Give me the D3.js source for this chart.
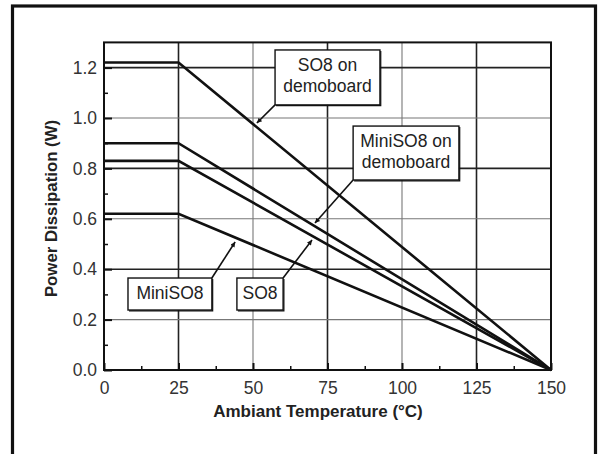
<!DOCTYPE html>
<html>
<head>
<meta charset="utf-8">
<script src="https://cdn.jsdelivr.net/npm/d3@7"></script>
<style>
  html, body { margin: 0; padding: 0; background: #fff; }
  svg { display: block; font-family: "Liberation Sans", Arial, Helvetica, sans-serif; }
</style>
</head>
<body>
<svg id="chart" width="599" height="454"></svg>
<script>
// ---- data ----
const seriesNames = ["SO8 on demoboard", "MiniSO8 on demoboard", "SO8", "MiniSO8"];
const flatPower = [1.22, 0.90, 0.83, 0.62];        // W, flat up to 25 °C
const breakTemp = [25, 25, 25, 25];                  // °C
const zeroTemp = [150, 150, 150, 150];               // °C where power reaches 0
const xTicks = [0, 25, 50, 75, 100, 125, 150];
const yTicks = [0.0, 0.2, 0.4, 0.6, 0.8, 1.0, 1.2];
const xMinorTicks = [12.5, 37.5, 62.5, 87.5, 112.5, 137.5];
const yMinorTicks = [0.1, 0.3, 0.5, 0.7, 0.9, 1.1];
// annotation boxes in data coordinates: [T0, T1], [P top, P bottom], tip [T, P], corner used for pointer
const annLabels = [["SO8 on", "demoboard"], ["MiniSO8 on", "demoboard"], ["MiniSO8"], ["SO8"]];
const annBoxT = [[57.4, 92.6], [83.6, 119.1], [8.05, 36.2], [44.6, 60.1]];
const annBoxP = [[1.270, 1.052], [0.968, 0.754], [0.365, 0.238], [0.365, 0.238]];
const annTip = [[51.3, 0.980], [70.8, 0.583], [44.0, 0.508], [69.8, 0.516]];
const annCorner = ["bl", "bl", "tr", "tr"];

// ---- layout ----
const svg = d3.select("#chart");
const x = d3.scaleLinear().domain([0, 150]).range([104, 551]);
const y = d3.scaleLinear().domain([0, 1.3]).range([370, 42.4]);

// outer frame
svg.append("rect").attr("x", 12.5).attr("y", 6).attr("width", 583).attr("height", 470)
  .attr("fill", "none").attr("stroke", "#111").attr("stroke-width", 3.2);

// grid
const g = svg.append("g");
xTicks.filter(t => t > 0 && t < 150).forEach((t, i) => {
  const dark = (i % 2 === 0);
  g.append("line").attr("x1", x(t)).attr("x2", x(t)).attr("y1", y(0)).attr("y2", y(1.3))
    .attr("stroke", dark ? "#222" : "#777").attr("stroke-width", dark ? 1.6 : 1.1);
});
yTicks.filter(t => t > 0).forEach((t, i) => {
  const dark = (i % 2 === 1);
  g.append("line").attr("x1", x(0)).attr("x2", x(150)).attr("y1", y(t)).attr("y2", y(t))
    .attr("stroke", dark ? "#222" : "#777").attr("stroke-width", dark ? 1.6 : 1.1);
});

// axes (ticks inward)
const xAxis = d3.axisBottom(x).tickValues(xTicks).tickSize(-7).tickPadding(12).tickFormat(d3.format("d"));
const yAxis = d3.axisLeft(y).tickValues(yTicks).tickSize(-8).tickPadding(7).tickFormat(d3.format(".1f"));
const gx = svg.append("g").attr("transform", `translate(0,${y(0)})`).call(xAxis);
const gy = svg.append("g").attr("transform", `translate(${x(0)},0)`).call(yAxis);
[gx, gy].forEach(a => {
  a.select(".domain").remove();
  a.selectAll(".tick line").attr("stroke", "#111").attr("stroke-width", 2);
  a.selectAll(".tick text").attr("fill", "#333").style("font-size", "17.5px")
    .style("font-family", "'Liberation Sans', Arial, sans-serif");
});
gx.selectAll(".tick text").attr("dy", "0.71em");
gy.selectAll(".tick text").attr("dy", "0.33em");
const gxm = svg.append("g").attr("transform", `translate(0,${y(0)})`)
  .call(d3.axisBottom(x).tickValues(xMinorTicks).tickSize(-4).tickFormat(""));
const gym = svg.append("g").attr("transform", `translate(${x(0)},0)`)
  .call(d3.axisLeft(y).tickValues(yMinorTicks).tickSize(-4).tickFormat(""));
[gxm, gym].forEach(a => {
  a.select(".domain").remove();
  a.selectAll(".tick line").attr("stroke", "#111").attr("stroke-width", 1.5);
});

// plot frame
svg.append("rect").attr("x", x(0)).attr("y", y(1.3)).attr("width", x(150) - x(0)).attr("height", y(0) - y(1.3))
  .attr("fill", "none").attr("stroke", "#111").attr("stroke-width", 2);

// series lines
const line = d3.line().x(d => x(d[0])).y(d => y(d[1]));
seriesNames.forEach((name, i) => {
  const pts = [[0, flatPower[i]], [breakTemp[i], flatPower[i]], [zeroTemp[i], 0]];
  svg.append("path").attr("d", line(pts)).attr("fill", "none")
    .attr("stroke", "#111").attr("stroke-width", 2.6).attr("stroke-linejoin", "miter");
});

// arrow marker
svg.append("defs").append("marker").attr("id", "arr")
  .attr("viewBox", "0 0 10 10").attr("refX", 10).attr("refY", 5)
  .attr("markerWidth", 7).attr("markerHeight", 5).attr("markerUnits", "userSpaceOnUse")
  .attr("orient", "auto")
  .append("path").attr("d", "M0,0 L10,5 L0,10 z").attr("fill", "#111");

// annotations
annLabels.forEach((lines, i) => {
  const x0 = x(annBoxT[i][0]), x1 = x(annBoxT[i][1]);
  const y0 = y(annBoxP[i][0]), y1 = y(annBoxP[i][1]);
  const cx = annCorner[i] === "bl" ? x0 : x1;
  const cy = annCorner[i] === "bl" ? y1 : y0;
  svg.append("line").attr("x1", cx).attr("y1", cy)
    .attr("x2", x(annTip[i][0])).attr("y2", y(annTip[i][1]))
    .attr("stroke", "#111").attr("stroke-width", 1.6).attr("marker-end", "url(#arr)");
  svg.append("rect").attr("x", x0).attr("y", y0).attr("width", x1 - x0).attr("height", y1 - y0)
    .attr("fill", "#fff").attr("stroke", "#111").attr("stroke-width", 1.4);
  svg.append("path").attr("d", `M${x1 + 0.8},${y0 + 1} V${y1 + 0.8} H${x0 + 1}`)
    .attr("fill", "none").attr("stroke", "#111").attr("stroke-width", 1.2);
  const mid = (x0 + x1) / 2, my = (y0 + y1) / 2;
  const offs = lines.length === 2 ? [-6.5, 14.5] : [5];
  lines.forEach((t, j) => {
    svg.append("text").attr("x", mid).attr("y", my + offs[j]).attr("text-anchor", "middle")
      .attr("fill", "#222").style("font-size", "17.5px").text(t);
  });
});

// axis titles
svg.append("text").attr("x", 318).attr("y", 417).attr("text-anchor", "middle")
  .attr("fill", "#222").style("font-size", "17px").style("font-weight", "bold")
  .text("Ambiant Temperature (\u00B0C)");
svg.append("text").attr("transform", "translate(57,208.5) rotate(-90)").attr("text-anchor", "middle")
  .attr("fill", "#222").style("font-size", "16.8px").style("font-weight", "bold")
  .text("Power Dissipation (W)");
</script>
</body>
</html>
